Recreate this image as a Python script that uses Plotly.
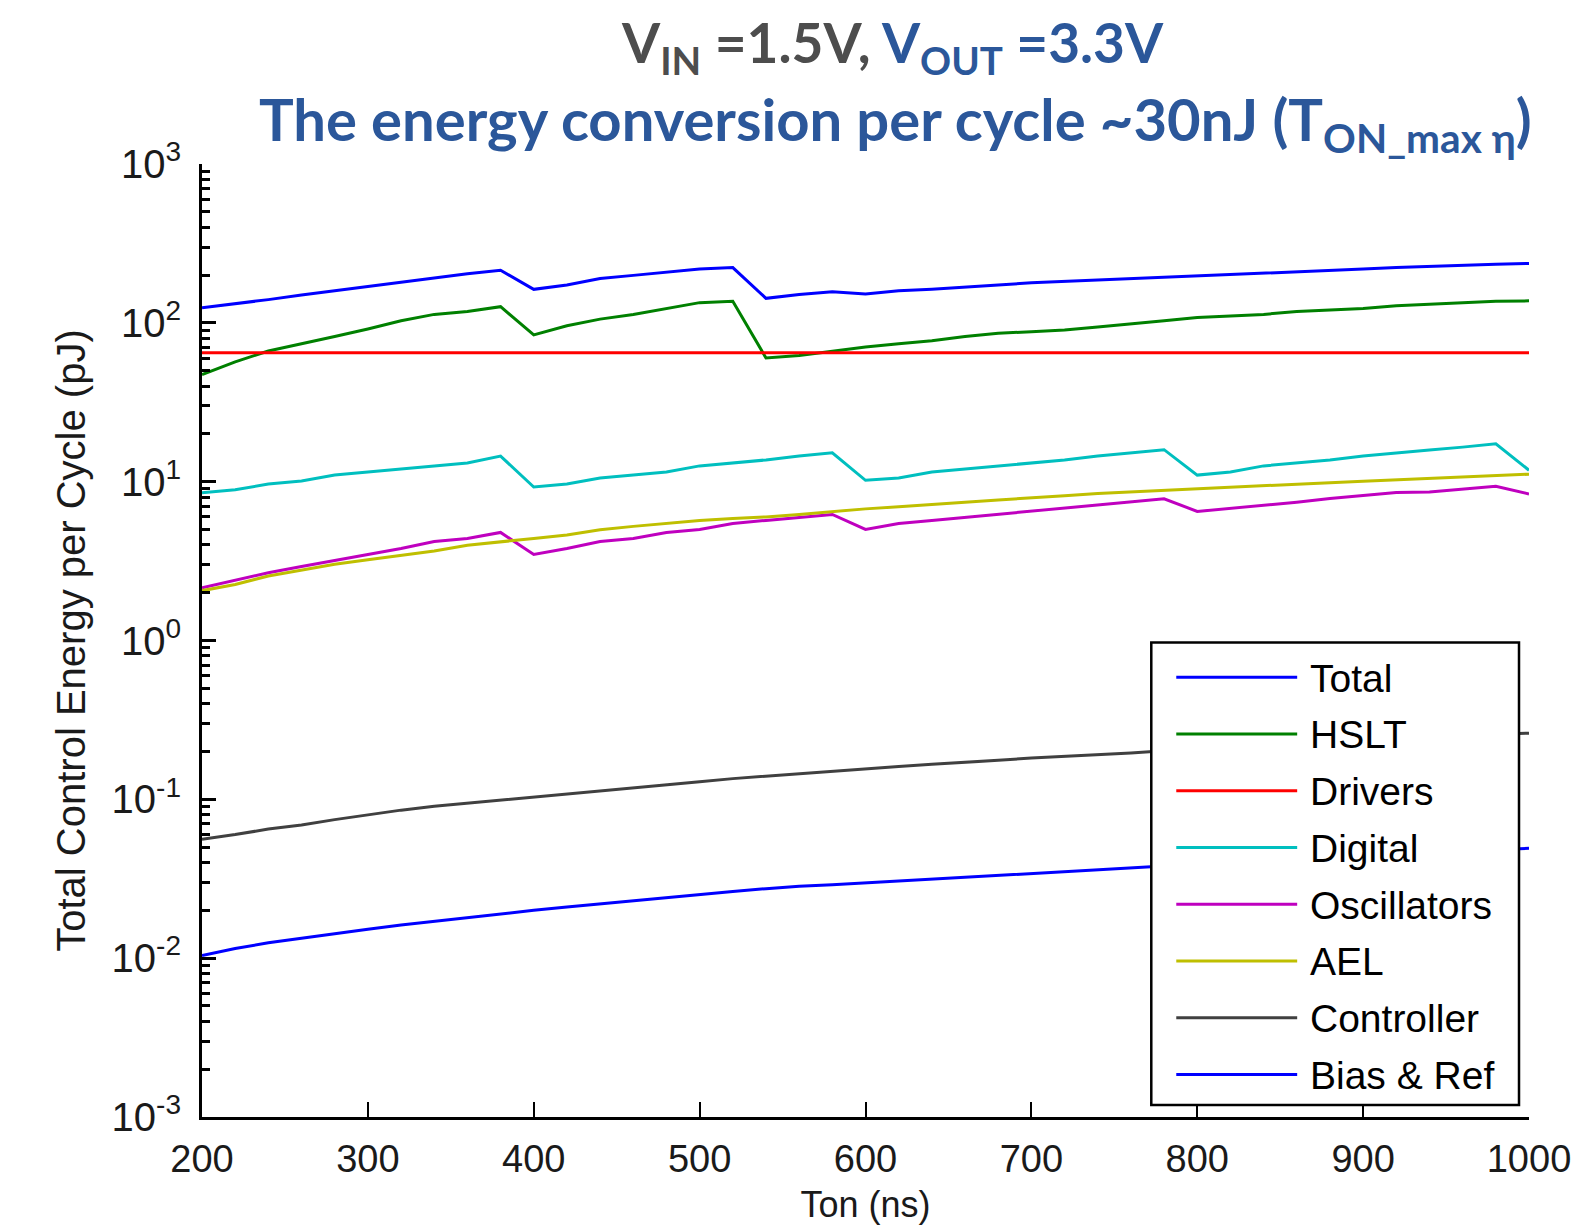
import plotly.graph_objects as go

# ---------------- data ----------------
ton = [200, 220, 240, 260, 280, 300, 320, 340, 360, 380,
       400, 420, 440, 460, 480, 500, 520, 540, 560, 580,
       600, 620, 640, 660, 680, 700, 720, 740, 760, 780,
       800, 820, 840, 860, 880, 900, 920, 940, 960, 980, 1000]

total = [124.6, 131.5, 140, 149.6, 159, 170, 181, 193, 204, 214.4,
         162.5, 173, 190, 199, 209, 218, 222.7, 142.6, 151, 157,
         152, 159, 162.5, 167, 173, 178.6, 182, 186, 190, 194,
         197, 200, 204.4, 209, 213.5, 218, 222.7, 227, 231, 234, 236.5]

hslt = [47.3, 56.8, 66.5, 73.6, 82, 91.4, 103, 113, 118, 126.4,
        84, 95.8, 105.5, 113, 123, 134, 136.7, 60.1, 62.2, 66,
        70.5, 73.9, 77.2, 82, 86, 87.9, 90, 94, 98, 103,
        108, 110.6, 113, 118, 120.5, 123, 128, 131.5, 134, 136.7, 137.5]

drivers_ton = [200, 1000]
drivers = [64.7, 64.7]

digital = [8.5, 8.9, 9.66, 10.1, 11.0, 11.5, 12.03, 12.57, 13.1, 14.5,
           9.25, 9.66, 10.55, 11.0, 11.5, 12.57, 13.1, 13.7, 14.5, 15.2,
           10.2, 10.55, 11.5, 12.03, 12.57, 13.1, 13.7, 14.5, 15.2, 15.9,
           11.0, 11.5, 12.57, 13.1, 13.7, 14.5, 15.2, 15.85, 16.5, 17.3, 11.8]

oscillators = [2.15, 2.4, 2.67, 2.92, 3.18, 3.48, 3.8, 4.2, 4.39, 4.79,
               3.48, 3.8, 4.2, 4.39, 4.79, 5.0, 5.46, 5.7, 5.96, 6.22,
               5.0, 5.46, 5.7, 5.96, 6.22, 6.5, 6.78, 7.08, 7.43, 7.8,
               6.5, 6.78, 7.08, 7.43, 7.84, 8.19, 8.55, 8.6, 8.94, 9.34, 8.37]

ael = [2.06, 2.25, 2.55, 2.79, 3.02, 3.22, 3.45, 3.66, 3.98, 4.2,
       4.39, 4.62, 4.98, 5.23, 5.46, 5.7, 5.86, 6.0, 6.22, 6.5,
       6.74, 6.95, 7.15, 7.43, 7.68, 7.88, 8.15, 8.42, 8.62, 8.84,
       9.05, 9.26, 9.45, 9.65, 9.86, 10.06, 10.25, 10.45, 10.65, 10.9, 11.15]

controller = [0.056, 0.060, 0.065, 0.069, 0.0745, 0.080, 0.0855, 0.0905, 0.0945, 0.099,
              0.1035, 0.108, 0.113, 0.118, 0.123, 0.129, 0.135, 0.140, 0.145, 0.149,
              0.155, 0.161, 0.166, 0.170, 0.176, 0.182, 0.186, 0.191, 0.196, 0.202,
              0.207, 0.213, 0.219, 0.225, 0.230, 0.236, 0.241, 0.247, 0.252, 0.257, 0.261]

bias_ref = [0.0104, 0.0115, 0.0125, 0.0133, 0.0142, 0.0152, 0.0162, 0.0171, 0.0181, 0.019,
            0.020, 0.021, 0.022, 0.0231, 0.0242, 0.0252, 0.0263, 0.0274, 0.0284, 0.029,
            0.0298, 0.0306, 0.0314, 0.0324, 0.0334, 0.0343, 0.0352, 0.0362, 0.037, 0.038,
            0.0395, 0.0405, 0.0415, 0.0425, 0.0435, 0.0445, 0.0455, 0.0465, 0.0474, 0.0483, 0.0492]

series_names = ["Total", "HSLT", "Drivers", "Digital", "Oscillators", "AEL", "Controller", "Bias & Ref"]
series_colors = ["#0000ff", "#008000", "#ff0000", "#00bfbf", "#bf00bf", "#bfbf00", "#404040", "#0000ff"]
series_x = [ton, ton, drivers_ton, ton, ton, ton, ton, ton]
series_y = [total, hslt, drivers, digital, oscillators, ael, controller, bias_ref]

xtick_vals = [200, 300, 400, 500, 600, 700, 800, 900, 1000]
ytick_vals = [1e-3, 1e-2, 1e-1, 1e0, 1e1, 1e2, 1e3]
ytick_text = ["10<sup>-3</sup>", "10<sup>-2</sup>", "10<sup>-1</sup>", "10<sup>0</sup>",
              "10<sup>1</sup>", "10<sup>2</sup>", "10<sup>3</sup>"]
yminor_vals = [k * d for d in [1e-3, 1e-2, 1e-1, 1e0, 1e1, 1e2] for k in range(2, 10)]

# ---------------- layout geometry (pixels) ----------------
W, H = 1583, 1231
L, R, T, B = 202, 1530, 164, 1126


def px(x):
    return (x - L) / (R - L)


def py(y):
    return (B - y) / (B - T)


AX_FONT = "Liberation Sans, Arial, sans-serif"
TITLE_FONT = "Lato, Open Sans, sans-serif"
BLUE_T = "#2b579a"
GRAY_T = "#4d4d4d"

fig = go.Figure()
for name, xs, ys, col in zip(series_names, series_x, series_y, series_colors):
    fig.add_trace(go.Scatter(x=xs, y=ys, mode="lines", name=name,
                             line=dict(color=col, width=3), showlegend=False))

fig.update_layout(
    width=W, height=H,
    margin=dict(l=L, r=W - R, t=T, b=H - B, pad=0),
    paper_bgcolor="white", plot_bgcolor="white",
    showlegend=False,
    xaxis=dict(range=[200, 1000], tickmode="array", tickvals=xtick_vals,
               ticks="inside", ticklen=15, tickwidth=2, tickcolor="black",
               showline=True, linewidth=3, linecolor="black",
               showgrid=False, zeroline=False,
               tickfont=dict(family=AX_FONT, size=38, color="#1a1a1a"),
               ticklabelstandoff=6,
               title=dict(text="Ton (ns)", standoff=14,
                          font=dict(family=AX_FONT, size=36, color="#1a1a1a"))),
    yaxis=dict(type="log", range=[-3, 3], tickmode="array",
               tickvals=ytick_vals, ticktext=ytick_text,
               ticks="inside", ticklen=14, tickwidth=2.5, tickcolor="black",
               minor=dict(tickmode="array", tickvals=yminor_vals, ticks="inside",
                          ticklen=8, tickwidth=2.5, tickcolor="black", showgrid=False),
               showline=True, linewidth=3, linecolor="black",
               showgrid=False, zeroline=False,
               tickfont=dict(family=AX_FONT, size=40, color="#1a1a1a"),
               ticklabelstandoff=10,
               title=dict(text="Total Control Energy per Cycle (pJ)", standoff=14,
                          font=dict(family=AX_FONT, size=40, color="#1a1a1a"))),
)

# ---------------- title ----------------
fig.add_annotation(xref="paper", yref="paper", x=px(893), y=py(45),
                   xanchor="center", yanchor="middle", showarrow=False,
                   text=("<b>V<sub>IN</sub> =1.5V, "
                         f"<span style='color:{BLUE_T}'>V<sub>OUT</sub> =3.3V</span></b>"),
                   font=dict(family=TITLE_FONT, size=55, color=GRAY_T))
fig.add_annotation(xref="paper", yref="paper", x=px(896), y=py(123),
                   xanchor="center", yanchor="middle", showarrow=False,
                   text="<b>The energy conversion per cycle ~30nJ (T<sub>ON_max η</sub>)</b>",
                   font=dict(family=TITLE_FONT, size=58, color=BLUE_T))

# ---------------- legend (boxed, long line samples) ----------------
LG_X0, LG_X1, LG_Y0, LG_Y1 = 1152, 1520, 647, 1114
fig.add_shape(type="rect", xref="paper", yref="paper",
              x0=px(LG_X0), x1=px(LG_X1), y0=py(LG_Y1), y1=py(LG_Y0),
              line=dict(color="black", width=2.5), fillcolor="white", layer="above")
row0, row_step = 682, 57.3
for i, (name, col) in enumerate(zip(series_names, series_colors)):
    yy = row0 + i * row_step
    fig.add_shape(type="line", xref="paper", yref="paper",
                  x0=px(1177), x1=px(1298), y0=py(yy), y1=py(yy),
                  line=dict(color=col, width=3), layer="above")
    fig.add_annotation(xref="paper", yref="paper", x=px(1309), y=py(yy + 1),
                       xanchor="left", yanchor="middle", showarrow=False,
                       text=name.replace("&", "&amp;"),
                       font=dict(family=AX_FONT, size=39, color="black"))

fig.write_html("out.html")
